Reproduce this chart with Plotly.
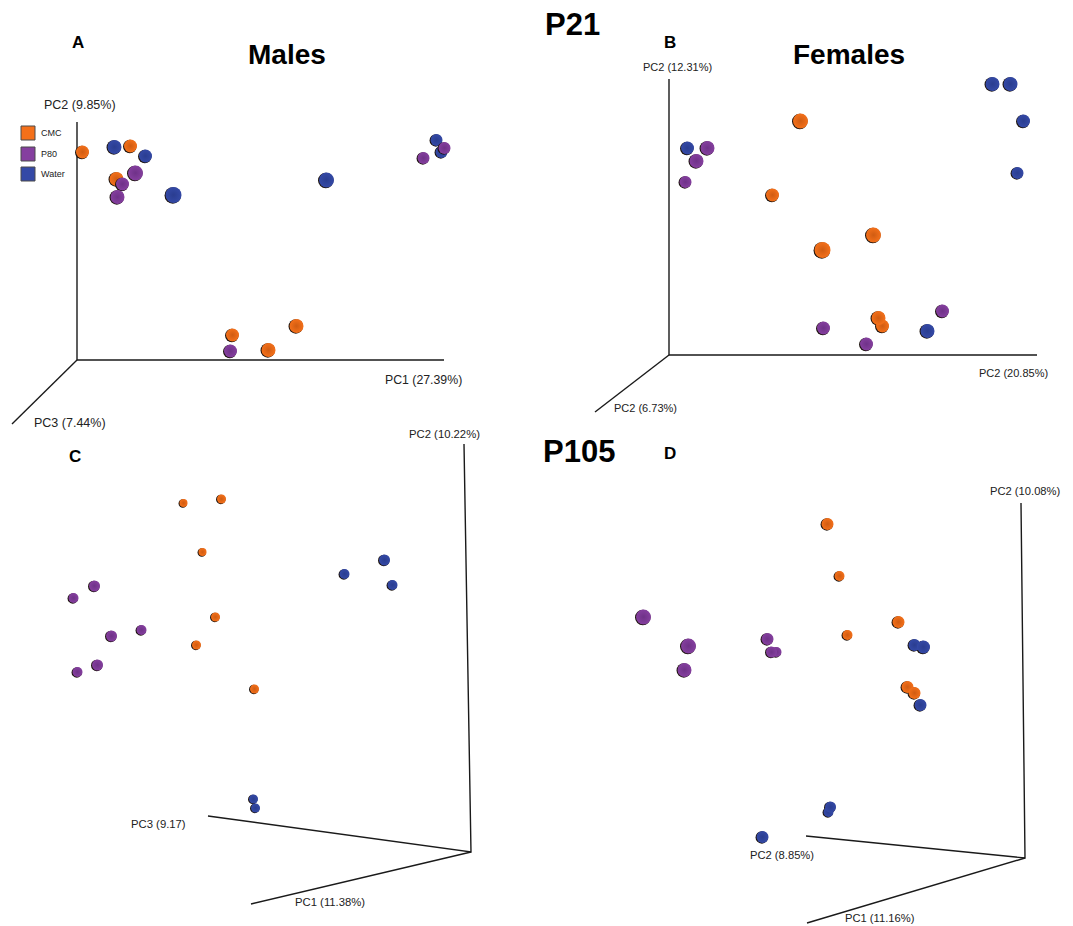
import plotly.graph_objects as go

W, H = 1073, 926
ORANGE, PURPLE, BLUE = "#f4701a", "#853f9f", "#3449a6"
EDGE = {"CMC": "#d05c12", "P80": "#6f3288", "Water": "#2a3d90"}
FILL = {"CMC": ORANGE, "P80": PURPLE, "Water": BLUE}

# Panel A (x, y, diameter)
a_cmc_x = [82, 130, 116, 232, 296, 268]
a_cmc_y = [152, 146, 179, 335, 326, 350]
a_cmc_s = [13, 13, 14, 13, 14, 14]
a_water_x = [114, 145, 173, 326, 436, 441]
a_water_y = [147, 156, 195, 180, 140, 152]
a_water_s = [14, 13, 16, 15, 12, 12]
a_p80_x = [135, 122, 117, 230, 423, 444]
a_p80_y = [173, 184, 197, 351, 158, 148]
a_p80_s = [15, 13, 14, 13, 12, 12]

# Panel B
b_cmc_x = [800, 772, 822, 873, 882, 878]
b_cmc_y = [121, 195, 250, 235, 326, 318]
b_cmc_s = [15, 13, 16, 15, 13, 14]
b_water_x = [687, 992, 1010, 1023, 1017, 927]
b_water_y = [148, 84, 84, 121, 173, 331]
b_water_s = [13, 14, 14, 13, 12, 14]
b_p80_x = [707, 696, 685, 942, 823, 866]
b_p80_y = [148, 161, 182, 311, 328, 344]
b_p80_s = [14, 14, 12, 13, 13, 13]

# Panel C
c_cmc_x = [183, 221, 202, 215, 196, 254]
c_cmc_y = [503, 499, 552, 617, 645, 689]
c_cmc_s = [8, 9, 8, 9, 9, 9]
c_water_x = [384, 344, 392, 253, 255]
c_water_y = [560, 574, 585, 799, 808]
c_water_s = [11, 10, 10, 9, 9]
c_p80_x = [94, 73, 111, 141, 97, 77]
c_p80_y = [586, 598, 636, 630, 665, 672]
c_p80_s = [11, 10, 11, 10, 11, 10]

# Panel D
d_water_x = [914, 923, 920, 828, 830, 762]
d_water_y = [645, 647, 705, 812, 807, 837]
d_water_s = [12, 13, 12, 10, 11, 12]
d_cmc_x = [827, 839, 847, 898, 907, 914]
d_cmc_y = [524, 576, 635, 622, 687, 693]
d_cmc_s = [12, 10, 10, 12, 12, 12]
d_p80_x = [643, 688, 684, 767, 776, 771]
d_p80_y = [617, 646, 670, 639, 652, 652]
d_p80_s = [15, 15, 14, 12, 10, 11]

# Axis frames of the four panels
frame_x = [77, 77, 444, None, 77, 12, None,
           669, 669, 1037, None, 669, 595, None,
           464, 471, 208, None, 471, 251, None,
           1021, 1025, 806, None, 1025, 807]
frame_y = [122, 360, 360, None, 360, 424, None,
           79, 355, 355, None, 355, 412, None,
           444, 852, 816, None, 852, 904, None,
           503, 858, 836, None, 858, 923]

# Text
axis_labels = ["PC2 (9.85%)", "PC1 (27.39%)", "PC3 (7.44%)",
               "PC2 (12.31%)", "PC2 (20.85%)", "PC2 (6.73%)",
               "PC2 (10.22%)", "PC3 (9.17)", "PC1 (11.38%)",
               "PC2 (10.08%)", "PC2 (8.85%)", "PC1 (11.16%)"]
axis_label_x = [80, 423.5, 70, 677, 1013, 645, 444, 158, 330, 1025, 782, 880]
axis_label_y = [105, 380, 423, 67, 373, 408, 434, 824, 902, 491, 855, 918]
axis_label_size = [12.5, 12.3, 12.5, 11, 11, 11, 11.3, 11.3, 11.3, 11.2, 11.2, 11.2]

titles = ["P21", "P105", "Males", "Females", "A", "B", "C", "D"]
title_x = [572, 579, 287, 849, 78, 670, 75, 670]
title_y = [24, 451, 54, 54, 42, 42, 456, 453]
title_size = [31, 31, 28, 28, 17, 17, 17, 17]

legend_names = ["CMC", "P80", "Water"]
legend_x = [28, 28, 28]
legend_y = [133, 154, 174]

panels = [
    [("CMC", a_cmc_x, a_cmc_y, a_cmc_s), ("Water", a_water_x, a_water_y, a_water_s), ("P80", a_p80_x, a_p80_y, a_p80_s)],
    [("CMC", b_cmc_x, b_cmc_y, b_cmc_s), ("Water", b_water_x, b_water_y, b_water_s), ("P80", b_p80_x, b_p80_y, b_p80_s)],
    [("CMC", c_cmc_x, c_cmc_y, c_cmc_s), ("Water", c_water_x, c_water_y, c_water_s), ("P80", c_p80_x, c_p80_y, c_p80_s)],
    [("Water", d_water_x, d_water_y, d_water_s), ("CMC", d_cmc_x, d_cmc_y, d_cmc_s), ("P80", d_p80_x, d_p80_y, d_p80_s)],
]

fig = go.Figure()
fig.add_trace(go.Scatter(x=frame_x, y=frame_y, mode="lines",
                         line=dict(color="#1a1a1a", width=1.4), hoverinfo="skip"))

for panel in panels:
    for name, xs, ys, ss in panel:
        # dark crescent under each sphere, then the sphere itself
        fig.add_trace(go.Scatter(
            x=[v - 0.2 for v in xs], y=[v + 0.4 for v in ys], mode="markers",
            hoverinfo="skip",
            marker=dict(size=[s + 0.5 for s in ss], color="#1c130d", opacity=1, line=dict(width=0)),
        ))
        fig.add_trace(go.Scatter(
            x=[v + 0.5 for v in xs], y=ys, mode="markers", name=name,
            marker=dict(size=ss, color=FILL[name], opacity=1,
                        gradient=dict(type="radial", color=EDGE[name]),
                        line=dict(width=0)),
        ))

fig.add_trace(go.Scatter(
    x=legend_x, y=legend_y, mode="markers",
    marker=dict(symbol="square", size=14, opacity=1,
                color=[FILL[n] for n in legend_names],
                line=dict(color="#4a4a4a", width=1)),
))
for n, lx, ly in zip(legend_names, legend_x, legend_y):
    fig.add_annotation(x=lx + 11, y=ly, text=n, showarrow=False, xanchor="left",
                       font=dict(family="Liberation Sans", size=9, color="#222"))

for t, tx, ty, ts in zip(axis_labels, axis_label_x, axis_label_y, axis_label_size):
    fig.add_annotation(x=tx, y=ty, text=t, showarrow=False,
                       font=dict(family="Liberation Sans", size=ts, color="#222"))
for t, tx, ty, ts in zip(titles, title_x, title_y, title_size):
    fig.add_annotation(x=tx, y=ty, text="<b>%s</b>" % t, showarrow=False,
                       font=dict(family="Liberation Sans", size=ts, color="#000"))

fig.update_layout(
    width=W, height=H, margin=dict(l=0, r=0, t=0, b=0),
    paper_bgcolor="white", plot_bgcolor="white", showlegend=False,
    xaxis=dict(range=[0, W], visible=False, fixedrange=True),
    yaxis=dict(range=[H, 0], visible=False, fixedrange=True),
)
fig.write_html("out.html", config={"displayModeBar": False},
               post_script="document.body.style.margin='0';document.body.style.overflow='hidden';")
